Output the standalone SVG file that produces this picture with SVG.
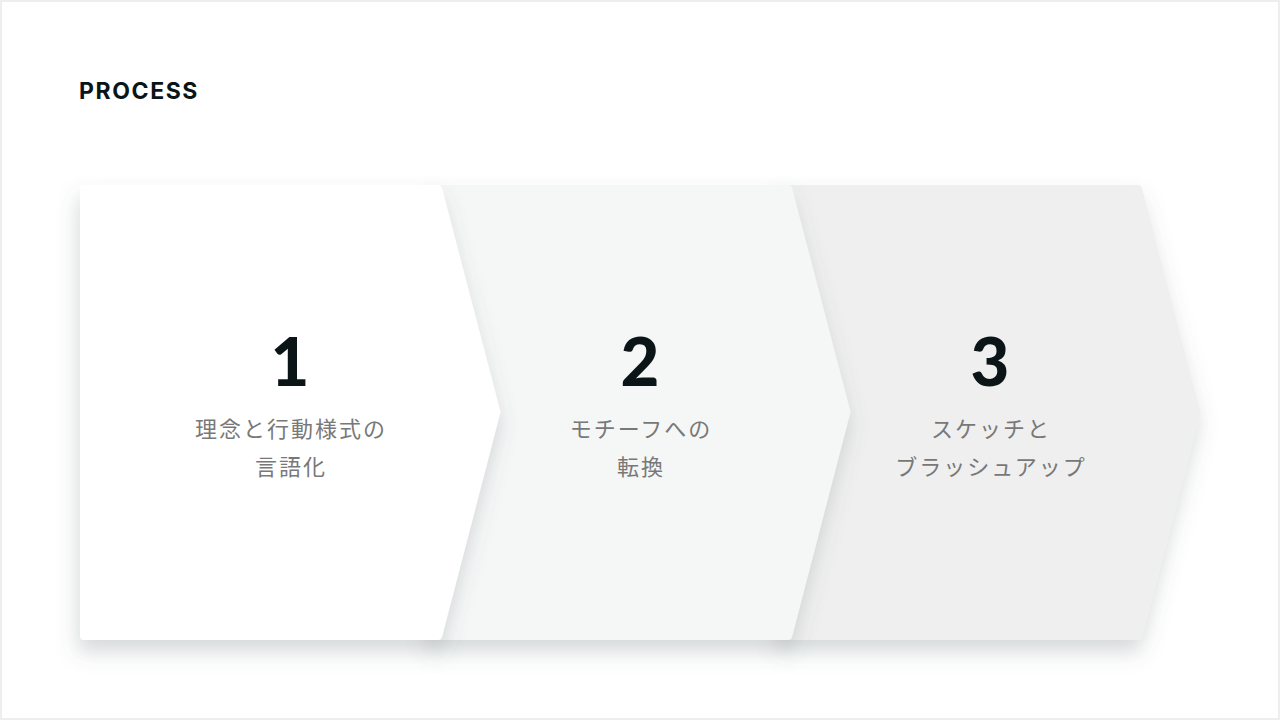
<svg xmlns="http://www.w3.org/2000/svg" width="1280" height="720" viewBox="0 0 1280 720">
<defs>
<filter id="sh" x="-10%" y="-10%" width="130%" height="140%">
<feDropShadow dx="-2" dy="12" stdDeviation="10" flood-color="#5f6a6e" flood-opacity="0.25"/>
</filter>
</defs>
<style>
.num{font-family:Lato,"Liberation Sans",sans-serif;font-weight:900;font-size:67px;fill:#0b1416;text-anchor:middle}
.lbl{font-family:"Noto Sans CJK JP","Noto Sans",sans-serif;font-size:22px;letter-spacing:2px;fill:#787878;text-anchor:middle;dominant-baseline:central}
.title{font-family:Inter,"Liberation Sans",sans-serif;font-weight:700;font-size:23px;letter-spacing:1.6px;fill:#0b1416}
</style>
<rect x="1" y="1" width="1278" height="718" fill="#ffffff" stroke="#eeeeee" stroke-width="2"/>
<text class="title" x="79" y="99">PROCESS</text>
<g id="step3">
<path d="M784 185 H1138 Q1141 185 1142 188 L1200 410 Q1201 412 1200 414 L1142 637 Q1141 640 1138 640 H784 Q780 640 780 636 V189 Q780 185 784 185 Z" fill="#efefef" filter="url(#sh)"/>
<text class="num" x="990" y="386">3</text>
<text class="lbl" x="991" y="427">スケッチと</text>
<text class="lbl" x="991" y="465">ブラッシュアップ</text>
</g>
<g id="step2">
<path d="M434 185 H788 Q791 185 792 188 L850 410 Q851 412 850 414 L792 637 Q791 640 788 640 H434 Q430 640 430 636 V189 Q430 185 434 185 Z" fill="#f5f6f6" filter="url(#sh)"/>
<text class="num" x="640" y="386">2</text>
<text class="lbl" x="641" y="427">モチーフへの</text>
<text class="lbl" x="641" y="465">転換</text>
</g>
<g id="step1">
<path d="M84 185 H438 Q441 185 442 188 L500 410 Q501 412 500 414 L442 637 Q441 640 438 640 H84 Q80 640 80 636 V189 Q80 185 84 185 Z" fill="#ffffff" filter="url(#sh)"/>
<text class="num" x="290" y="386">1</text>
<text class="lbl" x="291" y="427">理念と行動様式の</text>
<text class="lbl" x="291" y="465">言語化</text>
</g>
<g id="connectors"></g>
</svg>
